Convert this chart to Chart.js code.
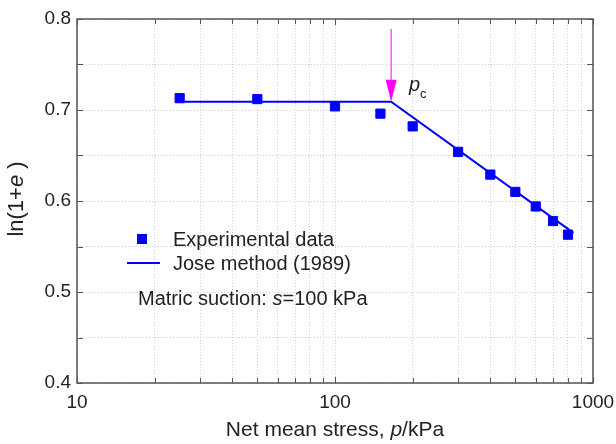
<!DOCTYPE html>
<html>
<head>
<meta charset="utf-8">
<script src="https://cdn.jsdelivr.net/npm/chart.js@4/dist/chart.umd.min.js"></script>
<style>
  html, body { margin: 0; padding: 0; background: #fff; }
  #wrap { width: 616px; height: 444px; }
</style>
</head>
<body>
<div id="wrap"><canvas id="consolChart" width="616" height="444"></canvas></div>
<script>
// measured points
var pressure = [25, 50, 100, 150, 200, 300, 400, 500, 600, 700, 800];
var lnVoid = [0.713, 0.712, 0.704, 0.696, 0.682, 0.654, 0.629, 0.610, 0.594, 0.578, 0.563];
// bilinear fit
var fitP = [25, 165, 840];
var fitY = [0.709, 0.709, 0.565];
var yieldP = 165;
var xTickLabels = [10, 100, 1000];
var yTickLabels = [0.4, 0.5, 0.6, 0.7, 0.8];

var FONT = '"Liberation Sans", Arial, sans-serif';
var BLUE = '#0000ff';

function pairs(xs, ys) {
    return xs.map(function (x, i) { return { x: x, y: ys[i] }; });
}

var logTicks = [];
[10, 100].forEach(function (d) {
    for (var k = 1; k < 10; k++) logTicks.push(d * k);
});
logTicks.push(1000);

// draw mixed upright/italic text pieces, centred on cx
function mixedText(ctx, parts, size, cx, cy) {
    var total = 0;
    parts.forEach(function (p) {
        ctx.font = (p[1] ? 'italic ' : '') + size + 'px ' + FONT;
        p.w = ctx.measureText(p[0]).width;
        total += p.w;
    });
    var x = cx - total / 2;
    parts.forEach(function (p) {
        ctx.font = (p[1] ? 'italic ' : '') + size + 'px ' + FONT;
        ctx.fillText(p[0], x, cy);
        x += p.w;
    });
}

var extras = {
    id: 'extras',
    afterDraw: function (chart) {
        var ctx = chart.ctx;
        var a = chart.chartArea;
        var xs = chart.scales.x, ys = chart.scales.y;
        ctx.save();

        // frame
        ctx.strokeStyle = '#555';
        ctx.lineWidth = 1.5;
        ctx.strokeRect(a.left, a.top, a.right - a.left, a.bottom - a.top);

        // inward ticks
        ctx.lineWidth = 1;
        ctx.beginPath();
        logTicks.forEach(function (v) {
            var px = Math.round(xs.getPixelForValue(v)) + 0.5;
            var len = xTickLabels.indexOf(v) >= 0 ? 6 : 5;
            ctx.moveTo(px, a.bottom); ctx.lineTo(px, a.bottom - len);
            ctx.moveTo(px, a.top); ctx.lineTo(px, a.top + len);
        });
        for (var t = 0.4; t <= 0.8001; t += 0.05) {
            var py = Math.round(ys.getPixelForValue(t)) + 0.5;
            ctx.moveTo(a.left, py); ctx.lineTo(a.left + 6, py);
            ctx.moveTo(a.right, py); ctx.lineTo(a.right - 6, py);
        }
        ctx.stroke();

        // yield arrow
        var ax = xs.getPixelForValue(yieldP);
        var tipY = ys.getPixelForValue(fitY[1]);
        var topY = ys.getPixelForValue(0.789);
        ctx.strokeStyle = '#ff00ff';
        ctx.fillStyle = '#ff00ff';
        ctx.beginPath();
        ctx.moveTo(ax, topY); ctx.lineTo(ax, tipY - 18);
        ctx.stroke();
        ctx.beginPath();
        ctx.moveTo(ax, tipY);
        ctx.lineTo(ax - 5.5, tipY - 22);
        ctx.lineTo(ax + 5.5, tipY - 22);
        ctx.closePath();
        ctx.fill();

        // p_c label
        ctx.fillStyle = '#222';
        ctx.textBaseline = 'alphabetic';
        ctx.textAlign = 'left';
        ctx.font = 'italic 20px ' + FONT;
        ctx.fillText('p', ax + 18, tipY - 11);
        ctx.font = '13px ' + FONT;
        ctx.fillText('c', ax + 29, tipY - 4);

        // legend
        ctx.fillStyle = BLUE;
        ctx.fillRect(137, 234, 10, 10);
        ctx.strokeStyle = BLUE;
        ctx.lineWidth = 2;
        ctx.beginPath();
        ctx.moveTo(127, 263); ctx.lineTo(160, 263);
        ctx.stroke();
        ctx.fillStyle = '#222';
        ctx.font = '20px ' + FONT;
        ctx.textBaseline = 'middle';
        ctx.fillText('Experimental data', 173, 240);
        ctx.fillText('Jose method (1989)', 173, 264);
        var s1 = 'Matric suction: ';
        ctx.fillText(s1, 138, 299);
        var w1 = ctx.measureText(s1).width;
        ctx.font = 'italic 20px ' + FONT;
        ctx.fillText('s', 138 + w1, 299);
        var w2 = ctx.measureText('s').width;
        ctx.font = '20px ' + FONT;
        ctx.fillText('=100 kPa', 138 + w1 + w2, 299);

        // x axis title
        mixedText(ctx, [['Net mean stress, ', false], ['p', true], ['/kPa', false]], 21,
            (a.left + a.right) / 2, 430);

        // y axis title
        ctx.translate(17, 199);
        ctx.rotate(-Math.PI / 2);
        mixedText(ctx, [['ln(1+', false], ['e', true], [' )', false]], 22, 0, 0);

        ctx.restore();
    }
};

document.addEventListener('DOMContentLoaded', function () {
    var ctx = document.getElementById('consolChart').getContext('2d');
    new Chart(ctx, {
        type: 'scatter',
        data: {
            datasets: [
                {
                    label: 'Experimental data',
                    data: pairs(pressure, lnVoid),
                    pointStyle: 'rect',
                    pointRadius: 6.5,
                    backgroundColor: BLUE,
                    borderColor: BLUE,
                    borderWidth: 1,
                    order: 1
                },
                {
                    label: 'Jose method (1989)',
                    data: pairs(fitP, fitY),
                    showLine: true,
                    pointRadius: 0,
                    borderColor: BLUE,
                    borderWidth: 2,
                    fill: false,
                    order: 2
                }
            ]
        },
        options: {
            responsive: false,
            animation: false,
            layout: { padding: { left: 0, right: 23, top: 19, bottom: 0 } },
            plugins: {
                legend: { display: false },
                tooltip: { enabled: false }
            },
            scales: {
                x: {
                    type: 'logarithmic',
                    min: 10,
                    max: 1000,
                    afterBuildTicks: function (scale) {
                        scale.ticks = logTicks.map(function (v) { return { value: v }; });
                    },
                    afterFit: function (scale) {
                        scale.height = 61;
                        scale.paddingLeft = 0;
                        scale.paddingRight = 0;
                    },
                    ticks: {
                        autoSkip: false,
                        maxRotation: 0,
                        padding: 8,
                        color: '#222',
                        font: { family: FONT, size: 19 },
                        callback: function (v) {
                            return xTickLabels.indexOf(v) >= 0 ? String(v) : '';
                        }
                    },
                    grid: { color: '#cfcfcf', lineWidth: 1, drawTicks: false },
                    border: { display: false, dash: [1, 2] }
                },
                y: {
                    min: 0.4,
                    max: 0.8,
                    afterBuildTicks: function (scale) {
                        var arr = [];
                        for (var i = 0; i <= 8; i++) arr.push({ value: +(0.4 + i * 0.05).toFixed(2) });
                        scale.ticks = arr;
                    },
                    afterFit: function (scale) {
                        scale.width = 77;
                        scale.paddingTop = 0;
                        scale.paddingBottom = 0;
                    },
                    ticks: {
                        autoSkip: false,
                        padding: 6,
                        color: '#222',
                        font: { family: FONT, size: 19 },
                        callback: function (v) {
                            var r = Math.round(v * 10) / 10;
                            return Math.abs(v - r) < 1e-6 && yTickLabels.indexOf(r) >= 0 ? r.toFixed(1) : '';
                        }
                    },
                    grid: { color: '#cfcfcf', lineWidth: 1, drawTicks: false },
                    border: { display: false, dash: [1, 2] }
                }
            }
        },
        plugins: [extras]
    });
});
</script>
</body>
</html>
